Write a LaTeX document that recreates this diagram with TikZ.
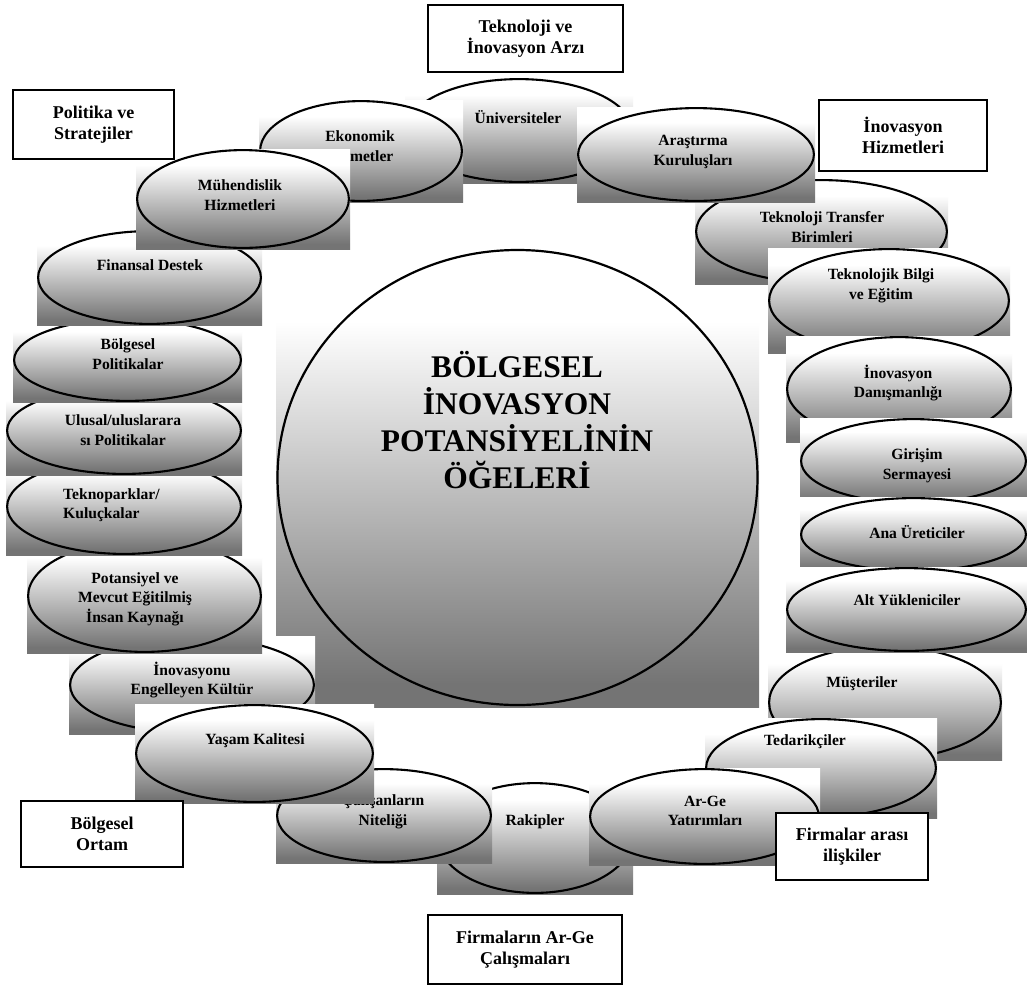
\documentclass[tikz,border=0pt]{standalone}
\usepackage{fontspec}
\setmainfont{Liberation Serif}[BoldFont={Liberation Serif Bold}]
\newfontfamily\diagfont{Liberation Serif Bold}
\usetikzlibrary{shapes.geometric}
\definecolor{shadegray}{RGB}{116,116,116}
% white in the upper part, darkening to grey towards the bottom
\pgfdeclareverticalshading{panelshade}{100bp}{%
  color(0bp)=(shadegray); color(27.5bp)=(shadegray);
  color(67bp)=(white); color(100bp)=(white)}
\tikzset{
  panel/.style={rectangle, shading=panelshade, draw=none, inner sep=0pt, outer sep=0pt},
  ring/.style={ellipse, draw=black, line width=2.1pt, inner sep=0pt},
  itemtext/.style={font=\diagfont\fontsize{15.6}{19.5}\selectfont, align=center, inner sep=0pt},
  labelbox/.style={rectangle, draw=black, line width=2.6pt, fill=white,
    font=\diagfont\fontsize{18}{21.5}\selectfont, align=center, inner sep=0pt},
  hubtext/.style={font=\diagfont\fontsize{31.5}{37}\selectfont, align=center, inner sep=0pt}
}
% shaded panel (x1,y1)-(x2,y2) with its ellipse and label
% #1 name, #2 x1, #3 y1, #4 x2, #5 y2, #6 label x, #7 label y, #8 label
\newcommand\elitem[8]{%
  \pgfmathsetmacro\ew{#4-#2}%
  \pgfmathsetmacro\eh{#5-#3}%
  \pgfmathsetmacro\ecx{(#2+#4)/2}%
  \pgfmathsetmacro\ecy{(#3+#5)/2}%
  \node[panel, minimum width=\ew pt, minimum height=\eh pt] (#1-bg) at (\ecx,\ecy) {};
  \node[ring, minimum width=\ew pt-2.2pt, minimum height=\eh pt-2.2pt] (#1) at (\ecx,\ecy) {};
  \node[itemtext] (#1-t) at (#6,#7) {#8};
}
\begin{document}
\begin{tikzpicture}[x=1pt,y=-1pt]
\useasboundingbox (0,0) rectangle (1027,989);
\fill[white] (0,0) rectangle (1027,989);

% central element
\node[panel, minimum width=483pt, minimum height=459pt] (hub-bg) at (517.5,477.5) {};
\node[ring, line width=2.2pt, minimum width=480pt, minimum height=455pt] (hub) at (517.5,477.5) {};
\node[hubtext] (hub-t) at (517,420) {BÖLGESEL\\İNOVASYON\\POTANSİYELİNİN\\ÖĞELERİ};

% surrounding elements, back to front
\elitem{univ}{405}{78}{633}{183}{518}{117}{Üniversiteler}
\elitem{transfer}{695}{179}{948}{284}{822}{227}{Teknoloji Transfer\\Birimleri}
\elitem{arastirma}{577}{107}{815}{202}{693}{152}{Araştırma\\Kuruluşları}
\elitem{ekonomik}{259}{100}{463}{202}{360}{146}{Ekonomik\\Hizmetler}
\elitem{kultur}{69}{636}{315}{734}{192}{680}{İnovasyonu\\Engelleyen Kültür}
\elitem{potansiyel}{27}{539}{262}{653}{135}{599}{Potansiyel ve\\Mevcut Eğitilmiş\\İnsan Kaynağı}
\elitem{teknopark}{6}{458}{242}{555}{0}{0}{}
\node[itemtext, align=left, anchor=west] (teknopark-l) at (63,505) {Teknoparklar/\\Kuluçkalar};
\elitem{ulusal}{6}{386}{242}{475}{123}{430}{Ulusal/uluslarara\\sı Politikalar}
\elitem{bolgesel}{13}{318}{242}{402}{128}{354}{Bölgesel\\Politikalar}
\elitem{finansal}{37}{230}{262}{325}{150}{265}{Finansal Destek}
\elitem{muhendislik}{136}{149}{350}{249}{240}{195}{Mühendislik\\Hizmetleri}
\elitem{bilgi}{768}{248}{1010}{353}{881}{286}{Teknolojik Bilgi\\ve Eğitim}
\elitem{danisman}{786}{336}{1012}{442}{898}{383}{İnovasyon\\Danışmanlığı}
\elitem{girisim}{800}{418}{1027}{504}{917}{466}{Girişim\\Sermayesi}
\elitem{ana}{800}{497}{1027}{572}{917}{532}{Ana Üreticiler}
\elitem{musteri}{768}{645}{1002}{760}{862}{684}{Müşteriler}
\elitem{alt}{786}{567}{1027}{652}{907}{600}{Alt Yükleniciler}
\elitem{tedarik}{705}{718}{937}{818}{805}{742}{Tedarikçiler}
\elitem{rakip}{437}{782}{633}{894}{535}{822}{Rakipler}
\elitem{arge}{589}{768}{820}{865}{705}{811}{Ar-Ge\\Yatırımları}
\elitem{calisan}{276}{768}{492}{863}{383}{812}{Çalışanların\\Niteliği}
\elitem{yasam}{135}{704}{374}{803}{255}{741}{Yaşam Kalitesi}

% group headings
\node[labelbox, minimum width=195pt, minimum height=67pt] (supply) at (525.5,38.5) {Teknoloji ve\\İnovasyon Arzı};
\node[labelbox, minimum width=161pt, minimum height=69pt] (policy) at (93.5,124.5) {Politika ve\\Stratejiler};
\node[labelbox, minimum width=168pt, minimum height=71pt] (services) at (903,135.5) {İnovasyon\\Hizmetleri};
\node[labelbox, minimum width=162pt, minimum height=66pt] (region) at (102,834) {Bölgesel\\Ortam};
\node[labelbox, minimum width=152pt, minimum height=67pt] (interfirm) at (852,846.5) {Firmalar arası\\ilişkiler};
\node[labelbox, minimum width=194pt, minimum height=69pt] (firmrd) at (525,949.5) {Firmaların Ar-Ge\\Çalışmaları};
\end{tikzpicture}
\end{document}
